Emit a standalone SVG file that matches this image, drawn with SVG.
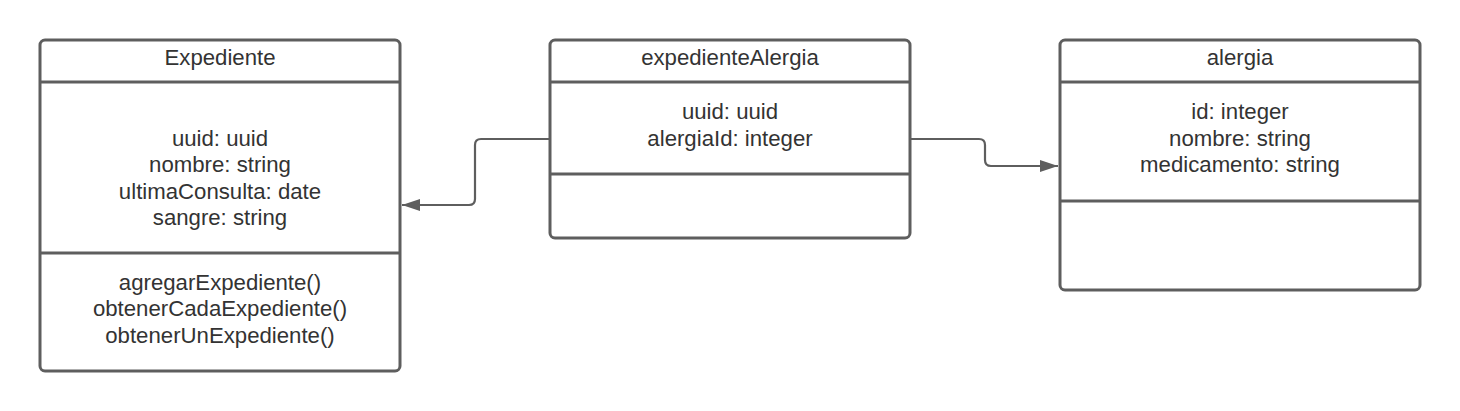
<svg xmlns="http://www.w3.org/2000/svg" width="1460" height="411" viewBox="0 0 1460 411">
<style>
.box{fill:#ffffff;stroke:#5e5e5e;stroke-width:3}
.div{stroke:#5e5e5e;stroke-width:3}
.t{font-family:"Liberation Sans",Arial,sans-serif;font-size:22.2px;fill:#333333;text-anchor:middle}
.conn{fill:none;stroke:#5e5e5e;stroke-width:2.2}
</style>
<defs>
<marker id="arrow" viewBox="0 0 18 12" refX="18" refY="6" markerWidth="18" markerHeight="12" orient="auto" markerUnits="userSpaceOnUse">
<path d="M0,0 L18,6 L0,12 z" fill="#5e5e5e"/>
</marker>
</defs>
<rect width="1460" height="411" fill="#ffffff"/>
<g id="connectors">
<path class="conn" d="M549,139 H481 Q475,139 475,145 V199 Q475,205 469,205 H402" marker-end="url(#arrow)"/>
<path class="conn" d="M911,139 H979 Q985,139 985,145 V160 Q985,166 991,166 H1058" marker-end="url(#arrow)"/>
</g>
<g id="Expediente">
<rect class="box" x="40" y="40" width="360" height="331" rx="5"/>
<line class="div" x1="40" y1="82" x2="400" y2="82"/>
<line class="div" x1="40" y1="253" x2="400" y2="253"/>
<text class="t" x="220" y="65">Expediente</text>
<text class="t" x="220" y="145.5">uuid: uuid</text>
<text class="t" x="220" y="172">nombre: string</text>
<text class="t" x="220" y="198.5">ultimaConsulta: date</text>
<text class="t" x="220" y="225">sangre: string</text>
<text class="t" x="220" y="289.5">agregarExpediente()</text>
<text class="t" x="220" y="316">obtenerCadaExpediente()</text>
<text class="t" x="220" y="342.5">obtenerUnExpediente()</text>
</g>
<g id="expedienteAlergia">
<rect class="box" x="550" y="40" width="360" height="198" rx="5"/>
<line class="div" x1="550" y1="82" x2="910" y2="82"/>
<line class="div" x1="550" y1="174" x2="910" y2="174"/>
<text class="t" x="730" y="65">expedienteAlergia</text>
<text class="t" x="730" y="119">uuid: uuid</text>
<text class="t" x="730" y="145.5">alergiaId: integer</text>
</g>
<g id="alergia">
<rect class="box" x="1060" y="40" width="360" height="250" rx="5"/>
<line class="div" x1="1060" y1="82" x2="1420" y2="82"/>
<line class="div" x1="1060" y1="201" x2="1420" y2="201"/>
<text class="t" x="1240" y="65">alergia</text>
<text class="t" x="1240" y="119">id: integer</text>
<text class="t" x="1240" y="145.5">nombre: string</text>
<text class="t" x="1240" y="172">medicamento: string</text>
</g>
</svg>
